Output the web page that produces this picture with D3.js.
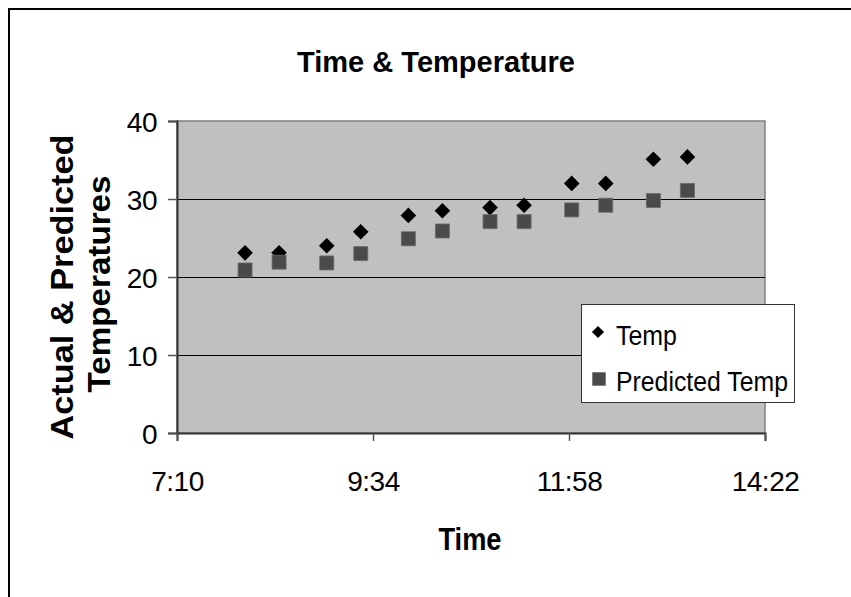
<!DOCTYPE html>
<html>
<head>
<meta charset="utf-8">
<script src="https://cdn.jsdelivr.net/npm/d3@7"></script>
<style>
  body { margin: 0; background: #fff; }
  svg { display: block; font-family: Arial, "Liberation Sans", sans-serif; }
</style>
</head>
<body>
<svg width="851" height="597"></svg>
<script>
// readings taken off the chart
var times = ["8:00", "8:25", "9:00", "9:25", "10:00", "10:25", "11:00", "11:25", "12:00", "12:25", "13:00", "13:25"];
var temp = [23.1, 23.1, 24.0, 25.8, 27.9, 28.5, 28.9, 29.2, 32.0, 32.0, 35.1, 35.4];
var predicted = [20.9, 21.9, 21.8, 23.0, 24.9, 25.9, 27.1, 27.1, 28.6, 29.2, 29.8, 31.1];
var xTicks = ["7:10", "9:34", "11:58", "14:22"];
var yTicks = [0, 10, 20, 30, 40];

var parse = d3.timeParse("%H:%M");
var fmt = d3.timeFormat("%-H:%M");

var svg = d3.select("svg");

// outer chart border (only top & left show in the picture)
svg.append("rect")
    .attr("x", 9).attr("y", 9)
    .attr("width", 900).attr("height", 700)
    .attr("fill", "none")
    .attr("stroke", "#000")
    .attr("stroke-width", 2);

var pLeft = 177, pRight = 765, pTop = 121, pBottom = 433;

var x = d3.scaleTime()
    .domain([parse(xTicks[0]), parse(xTicks[xTicks.length - 1])])
    .range([pLeft, pRight]);
var y = d3.scaleLinear()
    .domain([0, 40])
    .range([pBottom, pTop]);

// plot area
svg.append("rect")
    .attr("x", pLeft).attr("y", pTop)
    .attr("width", pRight - pLeft).attr("height", pBottom - pTop)
    .attr("fill", "#c0c0c0")
    .attr("stroke", "#808080")
    .attr("stroke-width", 1.5);

// gridlines
svg.append("g")
    .selectAll("line")
    .data(yTicks.slice(1, -1))
    .enter().append("line")
    .attr("x1", pLeft).attr("x2", pRight)
    .attr("y1", d => Math.round(y(d)) + 0.5)
    .attr("y2", d => Math.round(y(d)) + 0.5)
    .attr("stroke", "#000");

// axes
var yAxis = svg.append("g")
    .attr("transform", "translate(" + pLeft + ",0)")
    .call(d3.axisLeft(y).tickValues(yTicks).tickSize(9).tickPadding(11));
var xAxis = svg.append("g")
    .attr("transform", "translate(0," + pBottom + ")")
    .call(d3.axisBottom(x).tickValues(xTicks.map(parse)).tickFormat(fmt).tickSize(8).tickPadding(30));

[yAxis, xAxis].forEach(function(a) {
    a.select(".domain").attr("stroke", "#333").attr("stroke-width", 2);
    a.selectAll(".tick line").attr("stroke", "#555").attr("stroke-width", 1.5);
    a.selectAll(".tick text")
        .attr("fill", "#000")
        .style("font-size", "28px")
        .style("font-family", "Arial, 'Liberation Sans', sans-serif")
        .style("letter-spacing", "-0.5px");
});
yAxis.selectAll(".tick text").attr("dy", "0.36em");

// series: diamond = square turned 45 degrees
var diamond = d3.symbol().type(d3.symbolSquare).size(122);
var square = d3.symbol().type(d3.symbolSquare).size(196);

svg.append("g")
    .selectAll("path")
    .data(times)
    .enter().append("path")
    .attr("d", diamond)
    .attr("transform", (d, i) => "translate(" + x(parse(d)) + "," + y(temp[i]) + ") rotate(45)")
    .attr("fill", "#000");

svg.append("g")
    .selectAll("path")
    .data(times)
    .enter().append("path")
    .attr("d", square)
    .attr("transform", (d, i) => "translate(" + x(parse(d)) + "," + y(predicted[i]) + ")")
    .attr("fill", "#4a4a4a")
    .attr("stroke", "#6a6a6a")
    .attr("stroke-width", 0.8);

// titles
svg.append("text")
    .attr("x", 436).attr("y", 72)
    .attr("text-anchor", "middle")
    .attr("font-weight", "bold")
    .attr("font-size", 30)
    .attr("textLength", 278)
    .attr("lengthAdjust", "spacingAndGlyphs")
    .text("Time & Temperature");

svg.append("text")
    .attr("x", 470).attr("y", 550)
    .attr("text-anchor", "middle")
    .attr("font-weight", "bold")
    .attr("font-size", 31)
    .attr("textLength", 63)
    .attr("lengthAdjust", "spacingAndGlyphs")
    .text("Time");

var yt = svg.append("text")
    .attr("transform", "translate(0,287) rotate(-90)")
    .attr("text-anchor", "middle")
    .attr("font-weight", "bold")
    .attr("font-size", 32);
yt.append("tspan").attr("x", 0).attr("y", 73)
    .attr("textLength", 305).attr("lengthAdjust", "spacingAndGlyphs")
    .text("Actual & Predicted");
yt.append("tspan").attr("x", 3).attr("y", 110)
    .attr("textLength", 217).attr("lengthAdjust", "spacingAndGlyphs")
    .text("Temperatures");

// legend
var legend = svg.append("g").attr("transform", "translate(581,304)");
legend.append("rect")
    .attr("x", 0.5).attr("y", 0.5)
    .attr("width", 213).attr("height", 98)
    .attr("fill", "#fff")
    .attr("stroke", "#333");

var legendItems = [
    { label: "Temp", sym: d3.symbol().type(d3.symbolSquare).size(74), fill: "#000", w: 61, cx: 17, cy: 0, rot: 45 },
    { label: "Predicted Temp", sym: d3.symbol().type(d3.symbolSquare).size(180), fill: "#4a4a4a", w: 172, cx: 18, cy: 1, rot: 0 }
];
var li = legend.selectAll(".li")
    .data(legendItems)
    .enter().append("g")
    .attr("transform", (d, i) => "translate(0," + (28 + i * 46) + ")");
li.append("path")
    .attr("d", d => d.sym())
    .attr("transform", d => "translate(" + d.cx + "," + d.cy + ") rotate(" + d.rot + ")")
    .attr("fill", d => d.fill);
li.append("text")
    .attr("x", 35).attr("y", 4.5)
    .attr("font-size", 27)
    .attr("dy", "0.3em")
    .attr("textLength", d => d.w)
    .attr("lengthAdjust", "spacingAndGlyphs")
    .text(d => d.label);
</script>
</body>
</html>
